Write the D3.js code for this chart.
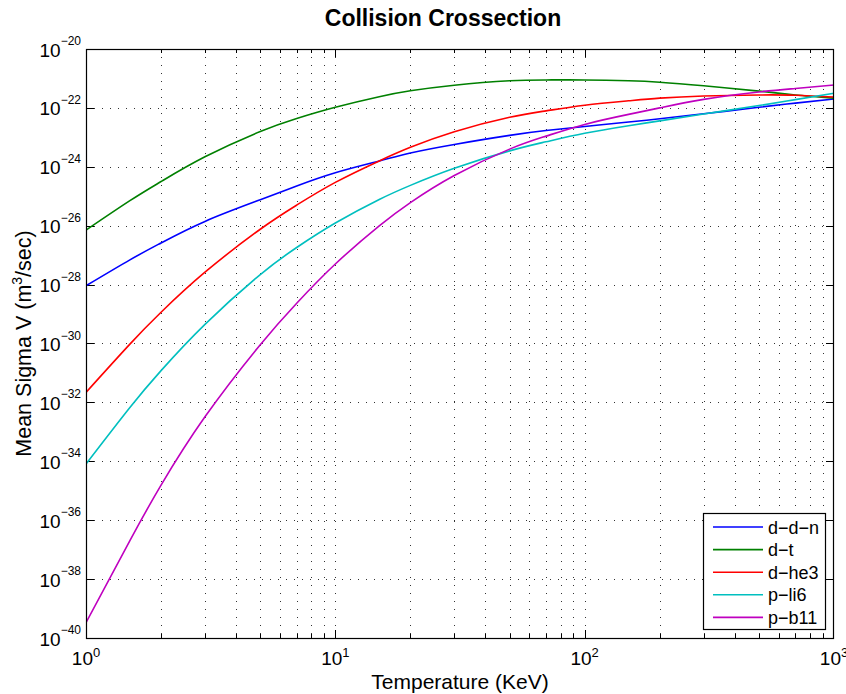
<!DOCTYPE html>
<html><head><meta charset="utf-8">
<script src="https://cdn.jsdelivr.net/npm/d3@7"></script>
<style>
html,body{margin:0;padding:0;background:#fff;}
svg{display:block;font-family:"Liberation Sans",Arial,Helvetica,sans-serif;}
</style></head>
<body><svg id="chart" width="846" height="694"></svg>
<script>
const temperatures = [1,1.5,2,3,5,7,10,15,20,30,50,70,100,150,200,300,500,700,1000];
const ddn  = [9.12e-29,6.92e-28,2.60e-27,1.40e-26,7.59e-26,2.24e-25,6.31e-25,1.58e-24,2.95e-24,5.75e-24,1.17e-23,1.70e-23,2.34e-23,3.31e-23,4.27e-23,6.31e-23,1.05e-22,1.45e-22,2.0e-22];
const dt   = [7.08e-27,7.08e-26,3.16e-25,2.19e-24,1.58e-23,4.37e-23,1.05e-22,2.40e-22,3.80e-22,5.89e-22,8.32e-22,8.91e-22,8.91e-22,8.32e-22,7.41e-22,5.62e-22,3.72e-22,2.75e-22,2.14e-22];
const dhe3 = [2.19e-32,9.55e-31,1.15e-29,2.63e-28,7.59e-27,5.01e-26,2.95e-25,1.58e-24,4.57e-24,1.55e-23,4.79e-23,7.94e-23,1.23e-22,1.74e-22,2.14e-22,2.54e-22,2.75e-22,2.69e-22,2.34e-22];
const pli6 = [8.13e-35,6.76e-33,1.20e-31,4.47e-30,2.19e-28,1.82e-27,1.23e-26,7.76e-26,2.34e-25,8.91e-25,3.47e-24,7.08e-24,1.38e-23,2.48e-23,3.63e-23,6.17e-23,1.20e-22,1.91e-22,3.16e-22];
const pb11 = [3.31e-40,2.04e-37,1.55e-35,3.24e-33,9.12e-31,2.34e-29,5.01e-28,9.89e-27,6.10e-26,5.07e-25,3.98e-24,1.10e-23,2.75e-23,6.03e-23,1.0e-22,1.95e-22,3.47e-22,4.57e-22,6.03e-22];
const seriesNames = ["d−d−n","d−t","d−he3","p−li6","p−b11"];
const seriesColors = ["#0000ff","#008000","#ff0000","#00bfbf","#bf00bf"];
const xTickExps = [0,1,2,3];
const yTickExps = [-20,-22,-24,-26,-28,-30,-32,-34,-36,-38,-40];
const titleText = "Collision Crossection";
const xLabel = "Temperature (KeV)";

const series = [ddn, dt, dhe3, pli6, pb11];
const svg = d3.select("#chart");
const L=86, R=834, T=49, B=638;
const x = d3.scaleLog().domain([1,1000]).range([L,R]);
const y = d3.scaleLog().domain([1e-40,1e-20]).range([B,T]);

// grid
const g = svg.append("g");
const xGrid = [];
for (let d=0; d<3; d++) for (let m=1; m<10; m++) { const v=m*Math.pow(10,d); if (v>1) xGrid.push(v); }
g.selectAll(".xg").data(xGrid).enter().append("line")
  .attr("x1",d=>Math.round(x(d))+0.5).attr("x2",d=>Math.round(x(d))+0.5)
  .attr("y1",T).attr("y2",B)
  .attr("stroke","#333").attr("stroke-width",1).attr("stroke-dasharray","1,7");
const yGridVals = yTickExps.filter(e=>e>-40 && e<-20).map(e=>Math.pow(10,e));
g.selectAll(".yg").data(yGridVals).enter().append("line")
  .attr("y1",d=>Math.round(y(d))+0.5).attr("y2",d=>Math.round(y(d))+0.5)
  .attr("x1",L).attr("x2",R)
  .attr("stroke","#333").attr("stroke-width",1).attr("stroke-dasharray","1,7");

// ticks
const allX = [1].concat(xGrid);
allX.forEach(v=>{
  const major = Math.abs(Math.log10(v)-Math.round(Math.log10(v)))<1e-9;
  const len = major?8:4;
  const px = Math.round(x(v))+0.5;
  svg.append("line").attr("x1",px).attr("x2",px).attr("y1",B).attr("y2",B-len).attr("stroke","#000");
  svg.append("line").attr("x1",px).attr("x2",px).attr("y1",T).attr("y2",T+len).attr("stroke","#000");
});
yTickExps.forEach(e=>{
  const py = Math.round(y(Math.pow(10,e)))+0.5;
  svg.append("line").attr("x1",L).attr("x2",L+8).attr("y1",py).attr("y2",py).attr("stroke","#000");
  svg.append("line").attr("x1",R).attr("x2",R-8).attr("y1",py).attr("y2",py).attr("stroke","#000");
});

// curves
const line = d3.line().x((d,i)=>x(temperatures[i])).y(d=>y(d)).curve(d3.curveNatural);
svg.append("clipPath").attr("id","clip").append("rect").attr("x",L).attr("y",T).attr("width",R-L).attr("height",B-T);
series.forEach((s,i)=>{
  svg.append("path").attr("d",line(s)).attr("fill","none")
    .attr("stroke",seriesColors[i]).attr("stroke-width",1.6).attr("clip-path","url(#clip)");
});

// box
svg.append("rect").attr("x",L+0.5).attr("y",T+0.5).attr("width",R-L-1).attr("height",B-T)
  .attr("fill","none").attr("stroke","#000").attr("stroke-width",1.2);

// tick labels
xTickExps.forEach(e=>{
  const t = svg.append("text").attr("x",x(Math.pow(10,e))).attr("y",665)
    .attr("text-anchor","middle").attr("font-size",19).attr("fill","#000");
  t.append("tspan").text("10");
  t.append("tspan").attr("dy",-8).attr("font-size",13).text(String(e));
});
yTickExps.forEach(e=>{
  const py = y(Math.pow(10,e));
  const t = svg.append("text").attr("x",81).attr("y",py+7.5)
    .attr("text-anchor","end").attr("font-size",19).attr("fill","#000");
  t.append("tspan").text("10");
  t.append("tspan").attr("dy",-11.5).attr("font-size",12).text("−"+Math.abs(e));
});

// title & labels
svg.append("text").attr("x",443).attr("y",26).attr("text-anchor","middle")
  .attr("font-size",23).attr("font-weight","bold").text(titleText);
svg.append("text").attr("x",460).attr("y",689).attr("text-anchor","middle")
  .attr("font-size",21).text(xLabel);
const yl = svg.append("text").attr("transform","translate(31,343.5) rotate(-90)")
  .attr("text-anchor","middle").attr("font-size",21.5);
yl.append("tspan").text("Mean Sigma V (m");
yl.append("tspan").attr("dy",-9).attr("font-size",14).text("3");
yl.append("tspan").attr("dy",9).text("/sec)");

// legend
const lg = svg.append("g");
lg.append("rect").attr("x",703.5).attr("y",513.5).attr("width",122).attr("height",116)
  .attr("fill","#fff").attr("stroke","#000").attr("stroke-width",1.2);
seriesNames.forEach((n,i)=>{
  const ry = 527 + i*22.6;
  lg.append("line").attr("x1",713).attr("x2",763).attr("y1",ry).attr("y2",ry)
    .attr("stroke",seriesColors[i]).attr("stroke-width",1.6);
  lg.append("text").attr("x",768).attr("y",ry+6.5).attr("font-size",18).text(n);
});
</script></body></html>
